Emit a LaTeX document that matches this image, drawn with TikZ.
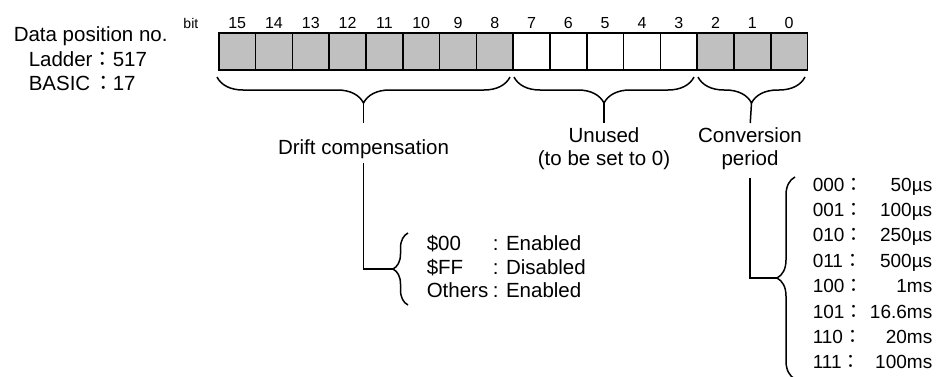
\documentclass[tikz,border=0pt]{standalone}
\usepackage{fontspec}
\setmainfont{Liberation Sans}
\newfontfamily\cjk{Noto Sans CJK JP}
\usetikzlibrary{decorations.pathreplacing,positioning}
\definecolor{cellgray}{RGB}{192,192,192}

\newcommand{\jc}{{\cjk ：}}

\begin{document}
\begin{tikzpicture}[x=1pt,y=-1pt,line width=1.5pt,
    every node/.style={inner sep=0pt,font=\fontsize{20.5}{22.5}\selectfont},
    cell/.style={draw,anchor=north west,minimum width=36.8pt,minimum height=37pt},
    used/.style={cell,fill=cellgray},
    unused/.style={cell,fill=white},
    bitno/.style={font=\fontsize{16}{18}\selectfont},
    listtext/.style={font=\fontsize{19}{22}\selectfont},
    downbrace/.style={decorate,decoration={brace,mirror,amplitude=26pt}},
    leftbrace/.style={decorate,decoration={brace,amplitude=#1}}]
  \useasboundingbox (0,0) rectangle (937,376);

  % data position number
  \node [anchor=base west] (dpos) at (13,41) {Data position no.};
  \node [anchor=base west] (ladder) at (28,66) {Ladder\jc};
  \node [anchor=base west] (ladderno) at (112,66) {517};
  \node [anchor=base west] (basic) at (28,90) {BASIC\,\jc};
  \node [anchor=base west] (basicno) at (112,90) {17};

  % bit cells
  \foreach \b in {15,...,8}
    \node [used] (b\b) at ({218+(15-\b)*36.8},32) {};
  \foreach \b in {7,...,3}
    \node [unused] (b\b) at ({218+(15-\b)*36.8},32) {};
  \foreach \b in {2,1,0}
    \node [used] (b\b) at ({218+(15-\b)*36.8},32) {};
  \foreach \b in {15,...,0}
    \node [bitno,above=3pt of b\b] (n\b) {\b};
  \node [anchor=base east,font=\fontsize{14}{16}\selectfont] (bit) at (199,28) {bit};

  % braces under the cells
  \draw [downbrace] (217,77) -- (510,77);
  \draw [downbrace] (514,77) -- (694,77);
  \draw [downbrace] (698,77) -- (805,77);
  \coordinate (drifttip) at (363.5,103);
  \coordinate (unusedtip) at (604,103);
  \coordinate (convtip) at (751.5,103);

  \node [anchor=base] (drift) at (363.5,154) {Drift compensation};
  \node [anchor=north,align=center] (unused) at (604,127) {Unused\\(to be set to 0)};
  \node [anchor=north,align=center] (conv) at (750,127) {Conversion\\period};

  \draw [shorten >=15pt] (drifttip) -- (drift.north);
  \draw [shorten >=4pt] (unusedtip) -- (unused.north);
  \draw [shorten >=4pt] (convtip) -- (conv.north);

  % drift compensation settings
  \draw [leftbrace=15pt] (408,305) -- (408,233);
  \coordinate (opttip) at (393,269);
  \draw [shorten <=4pt] (drift.south) |- (opttip);
  \foreach \code/\val [count=\i from 0] in {\$00/Enabled,\$FF/Disabled,Others/Enabled} {
    \node [anchor=base west] (opt\i) at (426,{250.7+23.6*\i}) {\code};
    \node [anchor=base west] (val\i) at (492,{250.7+23.6*\i}) {: \val};
  }

  % conversion period settings
  \draw [leftbrace=18pt] (795,379) -- (795,177);
  \coordinate (periodtip) at (777,278);
  \draw [shorten <=8pt] (conv.south) |- (periodtip);
  \foreach \code/\val [count=\i from 0] in {000/50µs,001/100µs,010/250µs,011/500µs,
      100/1ms,101/16.6ms,110/20ms,111/100ms} {
    \node [listtext,anchor=base west] (code\i) at (812,{191+25.4*\i}) {\code\jc};
    \node [listtext,anchor=base east] (time\i) at (933,{191+25.4*\i}) {\val};
  }
\end{tikzpicture}
\end{document}
